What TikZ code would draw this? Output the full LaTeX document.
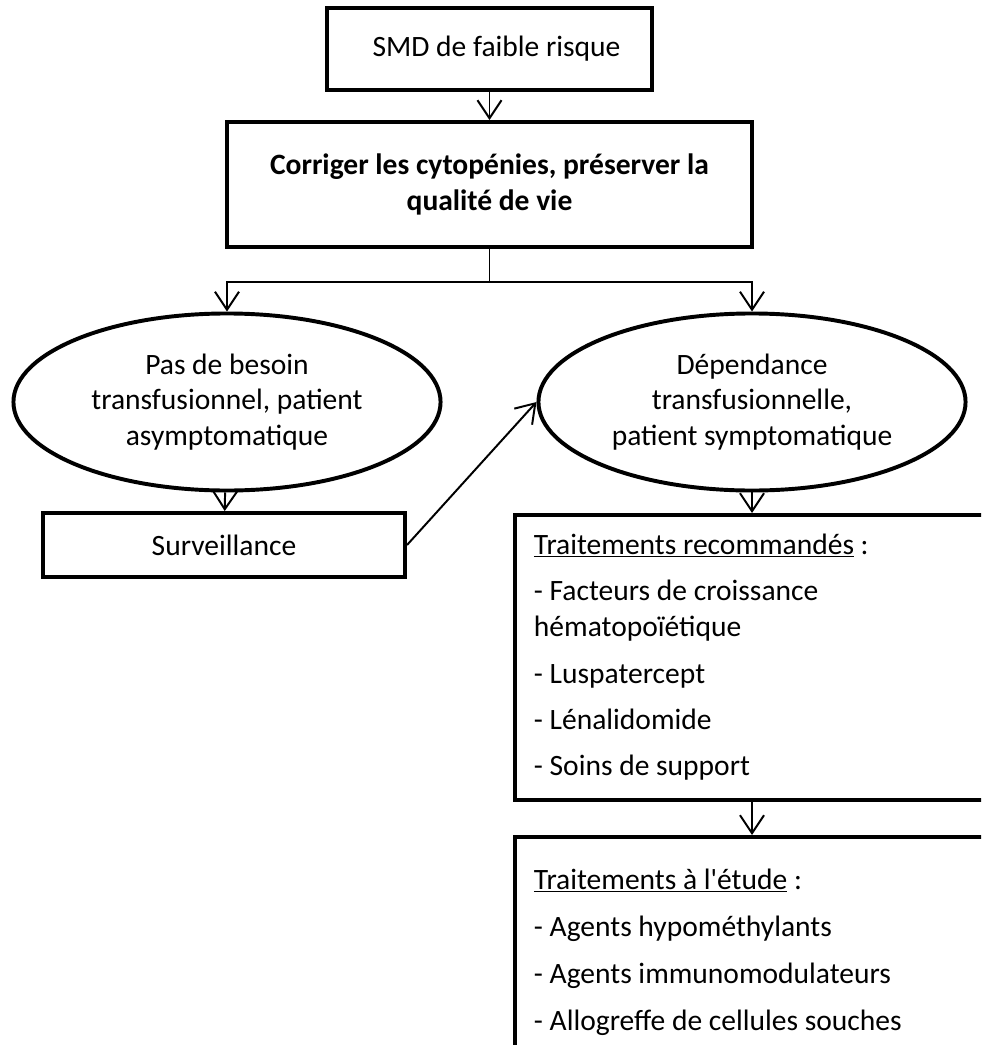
\documentclass[tikz,border=0pt]{standalone}
\usepackage{fontspec}
\setmainfont{Carlito}
\usetikzlibrary{shapes.geometric,arrows.meta}
\tikzset{flow box/.style={draw, line width=2.8pt, inner sep=0pt, align=center},
         flow oval/.style={draw, ellipse, line width=2.8pt, inner sep=0pt, align=center,
                           minimum width=10.675cm, minimum height=4.425cm},
         list box/.style={draw, line width=2.8pt, anchor=north west, align=flush left,
                          inner sep=0.475cm, text width=11.5cm},
         flow arrow/.style={line width=1.4pt, -{Straight Barb[length=0.45cm,width=0.6cm]}}}

\begin{document}
\begin{tikzpicture}[x=0.025cm, y=-0.025cm, font=\fontsize{21}{25.5}\selectfont]

\useasboundingbox (0,0) rectangle (981,1045);
\clip (0,0) rectangle (981,1045);

\node[flow box, minimum width=8.125cm, minimum height=2.05cm] (smd) at (489.5,49) {\hspace{0.35cm}SMD de faible risque};
\node[flow box, minimum width=13.125cm, minimum height=3.125cm, font=\fontsize{21}{25.5}\selectfont\bfseries]
    (goal) at (489.5,184.5) {Corriger les cytopénies, préserver la\\qualité de vie};

\node[flow oval] (nobes) at (227,402) {Pas de besoin\\transfusionnel, patient\\asymptomatique};
\node[flow oval] (dep) at (752,402) {Dépendance\\transfusionnelle,\\patient symptomatique};

\node[flow box, minimum width=9.05cm, minimum height=1.6cm] (surv) at (224,545) {Surveillance};

\node[list box] (reco) at (513,513) {\underline{Traitements recommandés} :\\[7.5pt]
    - Facteurs de croissance\\hématopoïétique\\[7.5pt]
    - Luspatercept\\[7.5pt]
    - Lénalidomide\\[7.5pt]
    - Soins de support};
\node[list box, inner ysep=0.8cm] (etude) at (513,835) {\underline{Traitements à l\textquotesingle étude} :\\[8pt]
    - Agents hypométhylants\\[8pt]
    - Agents immunomodulateurs\\[8pt]
    - Allogreffe de cellules souches\\[2cm]\strut};

\draw[flow arrow] (smd) -- (goal);
\draw[line width=1.4pt] (goal.south) -- ++(0,33) coordinate (split);
\draw[flow arrow] (split) -| (nobes.north);
\draw[flow arrow] (split) -| (dep.north);
\draw[flow arrow] (nobes) -- (surv);
\draw[flow arrow] (surv.east) -- (dep.west);
\draw[flow arrow] (dep.south) -- (dep.south |- reco.north);
\draw[flow arrow] (dep.south |- reco.south) -- (dep.south |- etude.north);

\end{tikzpicture}
\end{document}
